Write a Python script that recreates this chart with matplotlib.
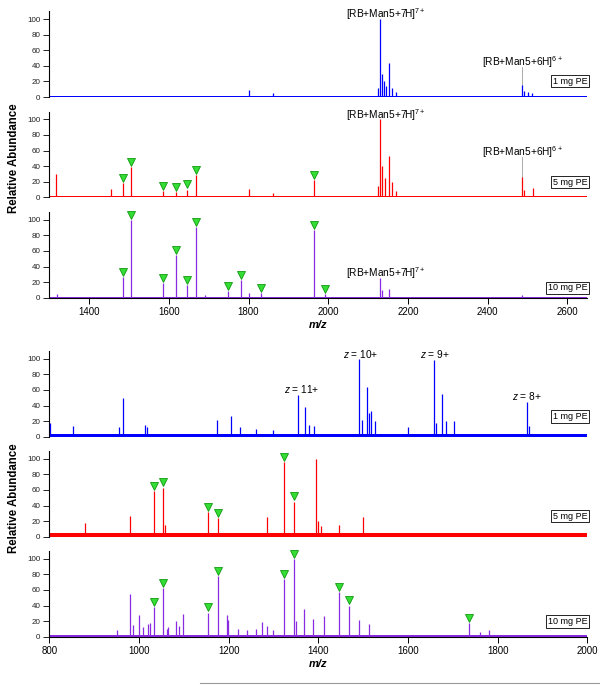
import matplotlib
matplotlib.use("Agg")
import matplotlib.pyplot as plt
from matplotlib import transforms
from matplotlib.lines import Line2D

plt.rcParams['font.family'] = ['Liberation Sans', 'DejaVu Sans']
plt.rcParams['mathtext.fontset'] = 'custom'
plt.rcParams['mathtext.rm'] = 'Liberation Sans'
plt.rcParams['mathtext.it'] = 'Liberation Sans:italic'
plt.rcParams['mathtext.bf'] = 'Liberation Sans:bold'

# ---------------- data (m/z, relative abundance) ----------------
# upper group
up_1mg_mz = [1800, 1862, 2125, 2130, 2135, 2140, 2145, 2153, 2160, 2170, 2486, 2492, 2500, 2510]
up_1mg_ab = [9, 5, 12, 100, 30, 20, 14, 43, 12, 6, 15, 8, 6, 5]
up_1mg_noise = 1.5

up_5mg_mz = [1318, 1454, 1484, 1505, 1585, 1618, 1646, 1668, 1800, 1862, 1963,
             2125, 2130, 2136, 2142, 2153, 2160, 2170, 2486, 2492, 2513]
up_5mg_ab = [30, 11, 18, 39, 8.5, 7, 10, 29, 11, 6, 22,
             15, 100, 40, 25, 53, 20, 8, 26, 10, 12]
up_5mg_marks = [1484, 1505, 1585, 1618, 1646, 1668, 1963]
up_5mg_noise = 2

up_10mg_mz = [1320, 1484, 1505, 1585, 1618, 1646, 1668, 1690, 1748, 1780, 1800, 1830,
              1963, 1992, 2130, 2136, 2153, 2486]
up_10mg_ab = [5, 27, 100, 18.5, 55, 16, 91, 3, 8, 23, 6, 5.5,
              87, 4.5, 25, 10, 11, 3]
up_10mg_marks = [1484, 1505, 1585, 1618, 1646, 1668, 1748, 1780, 1830, 1963, 1992]
up_10mg_noise = 1

# lower group
lo_1mg_mz = [801, 852, 956, 965, 1013, 1017, 1175, 1205, 1225, 1260, 1300, 1355, 1370,
             1380, 1390, 1491, 1497, 1508, 1513, 1517, 1526, 1600, 1657, 1663, 1675,
             1684, 1702, 1865, 1870]
lo_1mg_ab = [17, 14, 12, 49, 15, 12, 22, 27, 12, 10, 9, 54, 38,
             15, 14, 100, 22, 64, 30, 33, 20, 12, 99, 18, 55,
             20, 20, 44, 14]
lo_1mg_noise = 3.8

lo_5mg_mz = [880, 980, 1033, 1054, 1058, 1155, 1177, 1285, 1324, 1346, 1395, 1400,
             1405, 1447, 1500]
lo_5mg_ab = [17, 26, 58, 63, 15, 32, 24, 25, 96, 45, 100, 20, 14, 15, 25]
lo_5mg_marks = [1033, 1054, 1155, 1177, 1324, 1346]
lo_5mg_noise = 5

lo_10mg_mz = [950, 980, 987, 1001, 1010, 1020, 1025, 1033, 1054, 1062, 1065, 1082,
              1090, 1099, 1155, 1177, 1196, 1199, 1220, 1240, 1260, 1274, 1285, 1300,
              1324, 1346, 1350, 1369, 1389, 1413, 1446, 1469, 1491, 1512, 1737, 1761, 1781]
lo_10mg_ab = [8, 55, 15, 28, 13, 16, 18, 38, 62, 10, 12, 20,
              14, 29, 31, 78, 28, 22, 10, 8, 10, 19, 14, 8,
              74, 100, 20, 36, 23, 26, 57, 40, 21, 16, 17, 6, 8.5]
lo_10mg_marks = [1033, 1054, 1155, 1177, 1324, 1346, 1446, 1469, 1737]
lo_10mg_noise = 2.5

sample_labels = ["1 mg PE", "5 mg PE", "10 mg PE"]
up_xticks = [1400, 1600, 1800, 2000, 2200, 2400, 2600]
lo_xticks = [800, 1000, 1200, 1400, 1600, 1800, 2000]
yticks = [0, 20, 40, 60, 80, 100]

BLUE = '#0000ff'
RED = '#ff0000'
PURPLE = '#8a2be2'

fig = plt.figure(figsize=(6.0, 6.85), dpi=100)

L = 49.3 / 600
W = (587.3 - 49.3) / 600
H = 0.1252
bottoms = [1 - 97.0 / 685, 1 - 197.3 / 685, 1 - 297.7 / 685,
           1 - 436.7 / 685, 1 - 536.7 / 685, 1 - 636.7 / 685]


def make_ax(i, xlim, xticks, show_x):
    ax = fig.add_axes([L, bottoms[i], W, H])
    ax.set_xlim(*xlim)
    ax.set_ylim(0, 110)
    for s in ['top', 'right']:
        ax.spines[s].set_visible(False)
    ax.spines['left'].set_linewidth(0.8)
    ax.spines['bottom'].set_linewidth(0.8)
    ax.set_yticks(yticks)
    ax.tick_params(axis='y', direction='out', length=4.5, width=0.7,
                   labelsize=5.8, pad=2, colors='#222222')
    if show_x:
        ax.set_xticks(xticks)
        ax.tick_params(axis='x', direction='out', length=4, width=0.7,
                       labelsize=7, pad=3)
    else:
        ax.spines['bottom'].set_visible(False)
        ax.set_xticks([])
    ax.set_facecolor('none')
    return ax


def draw(ax, mz, ab, color, noise, marks=None):
    xl = ax.get_xlim()
    ax.fill_between(list(xl), [0, 0], [noise, noise], color=color, lw=0, zorder=2)
    ax.axhline(0, color=color, lw=1.0, zorder=2)
    ax.vlines(mz, 0, ab, colors=color, lw=0.9, zorder=3)
    if marks:
        off = transforms.offset_copy(ax.transData, fig=fig, x=0, y=3.7, units='points')
        hy = [ab[mz.index(m)] for m in marks]
        ax.plot(marks, hy, linestyle='none', marker='v', markersize=6.4,
                markerfacecolor='#33dd33', markeredgecolor='#119911',
                markeredgewidth=0.6, transform=off, zorder=5, clip_on=False)


def box_label(ax, text, y):
    ax.text(1.0, y, text, transform=transforms.blended_transform_factory(ax.transAxes, ax.transData),
            ha='right', va='center', fontsize=6.5,
            bbox=dict(boxstyle='square,pad=0.18', fc='white', ec='black', lw=0.6), zorder=6)


label7 = r"[RB+Man5+7H]$^{7+}$"
label6 = r"[RB+Man5+6H]$^{6+}$"
fs_lab = 7.3

# ---- upper group ----
ax1 = make_ax(0, (1300, 2650), up_xticks, False)
draw(ax1, up_1mg_mz, up_1mg_ab, BLUE, up_1mg_noise)
ax1.text(2145, 106, label7, ha='center', va='center', fontsize=fs_lab, clip_on=False)
ax1.text(2488, 45, label6, ha='center', va='center', fontsize=fs_lab, clip_on=False)
ax1.plot([2486, 2486], [38, up_1mg_ab[up_1mg_mz.index(2486)]], color='#888888', lw=0.5)
box_label(ax1, sample_labels[0], 20.5)

ax2 = make_ax(1, (1300, 2650), up_xticks, False)
draw(ax2, up_5mg_mz, up_5mg_ab, RED, up_5mg_noise, up_5mg_marks)
ax2.text(2145, 106, label7, ha='center', va='center', fontsize=fs_lab, clip_on=False)
ax2.text(2488, 58.5, label6, ha='center', va='center', fontsize=fs_lab, clip_on=False)
ax2.plot([2486, 2486], [52, up_5mg_ab[up_5mg_mz.index(2486)]], color='#888888', lw=0.5)
box_label(ax2, sample_labels[1], 19.3)

ax3 = make_ax(2, (1300, 2650), up_xticks, True)
draw(ax3, up_10mg_mz, up_10mg_ab, PURPLE, up_10mg_noise, up_10mg_marks)
ax3.text(2145, 32, label7, ha='center', va='center', fontsize=fs_lab, clip_on=False)
box_label(ax3, sample_labels[2], 12.5)
ax3.set_xlabel('m/z', fontsize=8, fontweight='bold', fontstyle='italic', labelpad=2)

# ---- lower group ----
ax4 = make_ax(3, (800, 2000), lo_xticks, False)
draw(ax4, lo_1mg_mz, lo_1mg_ab, BLUE, lo_1mg_noise)
ax4.text(1362, 61, r"$z$ = 11+", ha='center', va='center', fontsize=fs_lab, clip_on=False)
ax4.text(1495, 106, r"$z$ = 10+", ha='center', va='center', fontsize=fs_lab, clip_on=False)
ax4.text(1660, 106, r"$z$ = 9+", ha='center', va='center', fontsize=fs_lab, clip_on=False)
ax4.text(1865, 52, r"$z$ = 8+", ha='center', va='center', fontsize=fs_lab, clip_on=False)
box_label(ax4, sample_labels[0], 26)

ax5 = make_ax(4, (800, 2000), lo_xticks, False)
draw(ax5, lo_5mg_mz, lo_5mg_ab, RED, lo_5mg_noise, lo_5mg_marks)
box_label(ax5, sample_labels[1], 26.5)

ax6 = make_ax(5, (800, 2000), lo_xticks, True)
draw(ax6, lo_10mg_mz, lo_10mg_ab, PURPLE, lo_10mg_noise, lo_10mg_marks)
box_label(ax6, sample_labels[2], 19.6)
ax6.set_xlabel('m/z', fontsize=8, fontweight='bold', fontstyle='italic', labelpad=2)

# y labels
fig.text(14 / 600, 1 - 158 / 685, 'Relative Abundance', rotation=90, ha='center', va='center',
         fontsize=8.3, fontweight='bold')
fig.text(14 / 600, 1 - 498 / 685, 'Relative Abundance', rotation=90, ha='center', va='center',
         fontsize=8.3, fontweight='bold')

# thin gray rule at the bottom
fig.add_artist(Line2D([200 / 600, 1.0], [1 - 683.3 / 685, 1 - 683.3 / 685],
                      color='#999999', lw=0.8, transform=fig.transFigure))

fig.savefig('out.png', dpi=100)
